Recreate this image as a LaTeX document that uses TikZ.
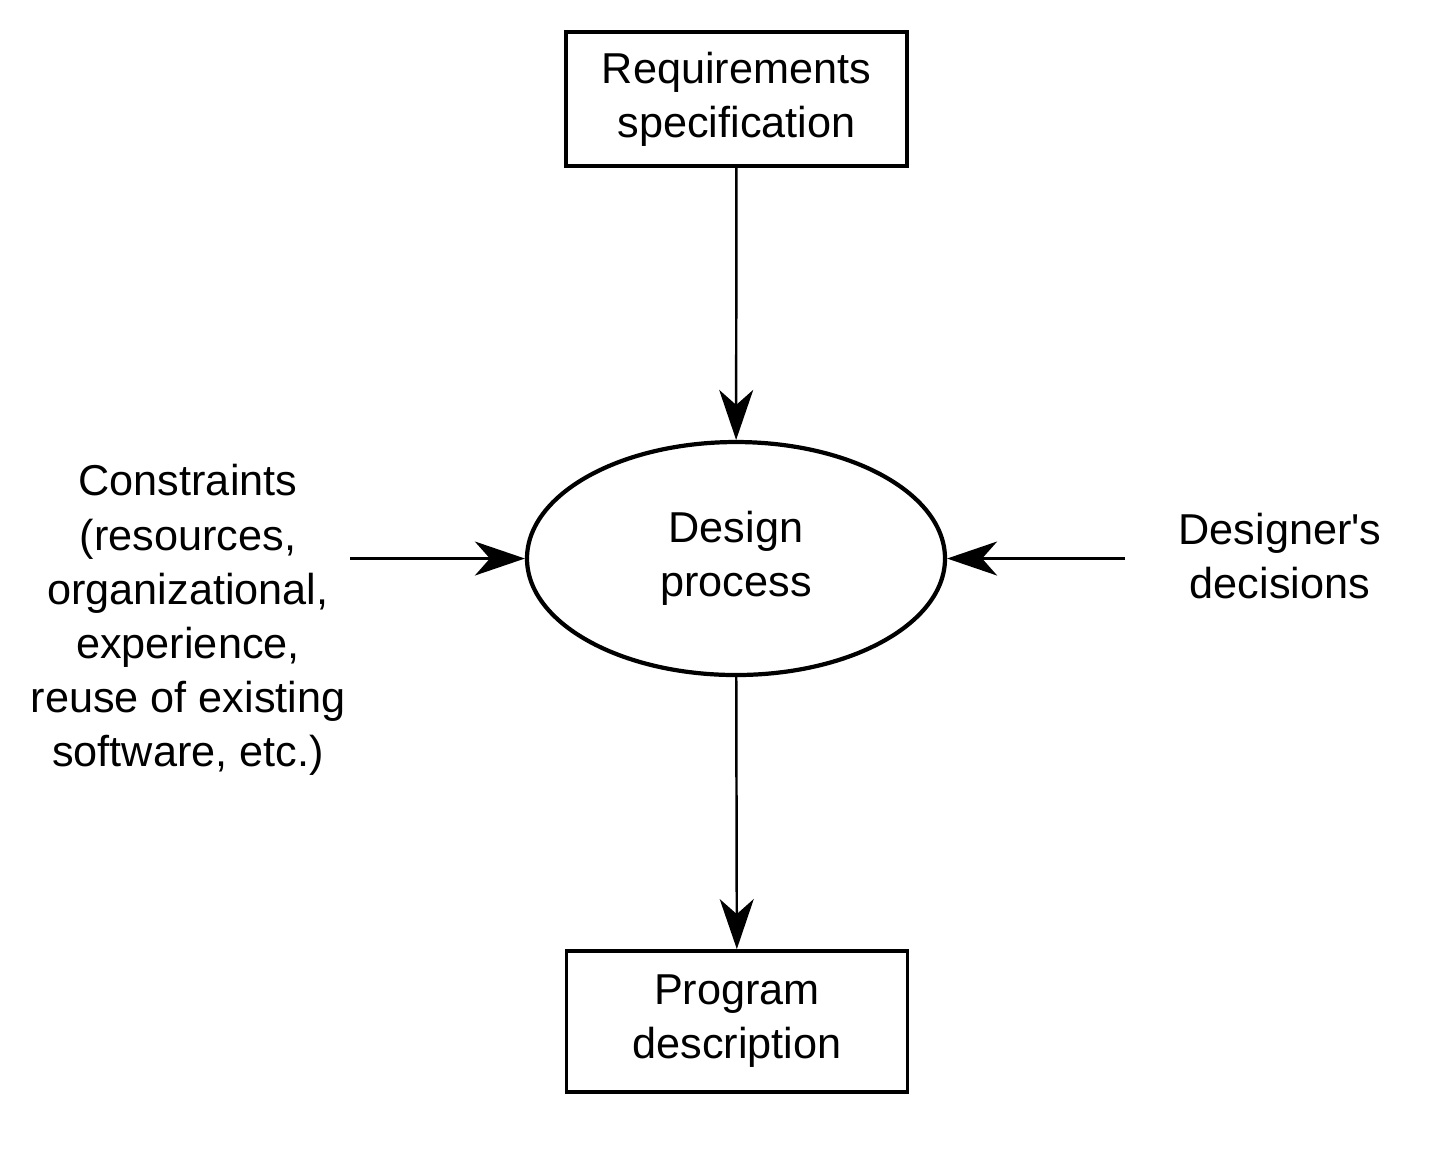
\documentclass[tikz,border=0pt]{standalone}
\usepackage{fontspec}
\setmainfont{Liberation Sans}
\usetikzlibrary{shapes.geometric, arrows.meta, positioning, calc}

\begin{document}
\begin{tikzpicture}[
    x=1cm, y=1cm,
    every node/.style={font=\fontsize{12.3}{15.4}\selectfont, align=center},
    docbox/.style={rectangle, draw, line width=1.1pt, minimum width=3.41cm, minimum height=1.34cm, inner sep=0pt},
    process/.style={ellipse, draw, line width=1.2pt, minimum width=4.18cm, minimum height=2.33cm, inner sep=0pt},
    arrow/.style={-{Stealth[length=5mm, width=3.4mm, inset=1.5mm]}, line width=0.7pt}
]
\useasboundingbox (0,0) rectangle (14.29,-11.59);
\node[docbox] (req) at (7.365,-0.99) {Requirements\\specification};
\node[process] (design) at (7.36,-5.585) {Design\\process};
\node[docbox, minimum height=1.41cm] (prog) at (7.37,-10.215) {Program\\description};
\node (cons) at (1.88,-6.2) {Constraints\\(resources,\\organizational,\\experience,\\reuse of existing\\software, etc.)};
\node (dec) at (12.8,-5.56) {Designer\textquotesingle s\\decisions};
\coordinate (consend) at (3.5,-5.585);
\coordinate (decend) at (11.25,-5.585);

\draw[arrow] (req) -- (design);
\draw[arrow] (design) -- (prog);
\draw[arrow] (consend) -- (design);
\draw[arrow] (decend) -- (design);
\end{tikzpicture}
\end{document}
